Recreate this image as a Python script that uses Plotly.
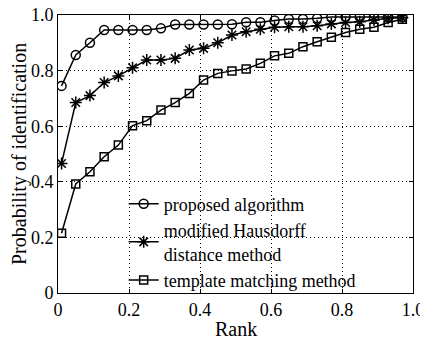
import plotly.graph_objects as go

rank = [0.01 + 0.04 * k for k in range(25)]

proposed = [0.745, 0.856, 0.900, 0.946, 0.946, 0.946, 0.946, 0.952, 0.966, 0.966,
            0.966, 0.966, 0.967, 0.974, 0.974, 0.980, 0.986, 0.986, 0.988, 0.993,
            0.993, 0.993, 0.993, 0.993, 0.993]
hausdorff = [0.466, 0.685, 0.710, 0.757, 0.781, 0.810, 0.838, 0.838, 0.844, 0.874,
             0.880, 0.900, 0.928, 0.940, 0.949, 0.956, 0.958, 0.958, 0.961, 0.968,
             0.973, 0.976, 0.982, 0.988, 0.990]
template = [0.215, 0.392, 0.436, 0.490, 0.532, 0.602, 0.620, 0.658, 0.685, 0.718,
            0.766, 0.790, 0.799, 0.806, 0.826, 0.853, 0.862, 0.886, 0.904, 0.920,
            0.937, 0.949, 0.956, 0.973, 0.985]

names = ["proposed algorithm", "modified Hausdorff<br>distance method", "template matching method"]
tick_vals = [0, 0.2, 0.4, 0.6, 0.8, 1.0]
tick_text = ["0", "0.2", "0.4", "0.6", "0.8", "1.0"]
x_title = "Rank"
y_title = "Probability of identification"

FONT = "Liberation Serif"
FS_TICK = 18
FS_TITLE = 20
FS_LEG = 18

fig = go.Figure()
fig.add_trace(go.Scatter(x=rank, y=proposed, name=names[0], mode="lines+markers",
                         line=dict(color="black", width=1.5),
                         marker=dict(symbol="circle-open", size=9, color="black",
                                     line=dict(width=1.5, color="black"))))
fig.add_trace(go.Scatter(x=rank, y=hausdorff, name=names[1], mode="lines+markers",
                         line=dict(color="black", width=1.5),
                         marker=dict(symbol="asterisk-open", size=10, color="black",
                                     line=dict(width=1.5, color="black"))))
fig.add_trace(go.Scatter(x=rank, y=template, name=names[2], mode="lines+markers",
                         line=dict(color="black", width=1.5),
                         marker=dict(symbol="square-open", size=8, color="black",
                                     line=dict(width=1.5, color="black"))))

axis_common = dict(range=[0, 1], tickvals=tick_vals, ticktext=tick_text,
                   showline=True, linecolor="black", linewidth=1, mirror="allticks",
                   ticks="inside", ticklen=4, tickcolor="black",
                   showgrid=True, gridcolor="black", griddash="1px,3px", gridwidth=1,
                   zeroline=False, automargin=False, ticklabeloverflow="allow",
                   tickfont=dict(family=FONT, size=FS_TICK, color="black"))

fig.update_xaxes(**axis_common)
fig.update_yaxes(**axis_common)

fig.add_annotation(text=x_title, xref="paper", yref="paper", x=0.5, y=0,
                   yshift=-36, showarrow=False, xanchor="center", yanchor="middle",
                   font=dict(family=FONT, size=FS_TITLE, color="black"))
fig.add_annotation(text=y_title, xref="paper", yref="paper", x=0, y=0.5,
                   xshift=-39, showarrow=False, xanchor="center", yanchor="middle",
                   textangle=-90, font=dict(family=FONT, size=FS_TITLE, color="black"))

# page body has an 8px default margin, so the figure is shifted by 8px
fig.update_layout(
    width=420, height=337,
    margin=dict(l=50, r=15, t=7, b=52),
    plot_bgcolor="white", paper_bgcolor="white",
    font=dict(family=FONT, size=FS_TICK, color="black"),
    legend=dict(x=0.185, y=-0.02, xanchor="left", yanchor="bottom",
                bgcolor="rgba(0,0,0,0)", borderwidth=0,
                font=dict(family=FONT, size=FS_LEG, color="black"),
                tracegroupgap=0, itemwidth=30),
)

fig.write_html("out.html")
